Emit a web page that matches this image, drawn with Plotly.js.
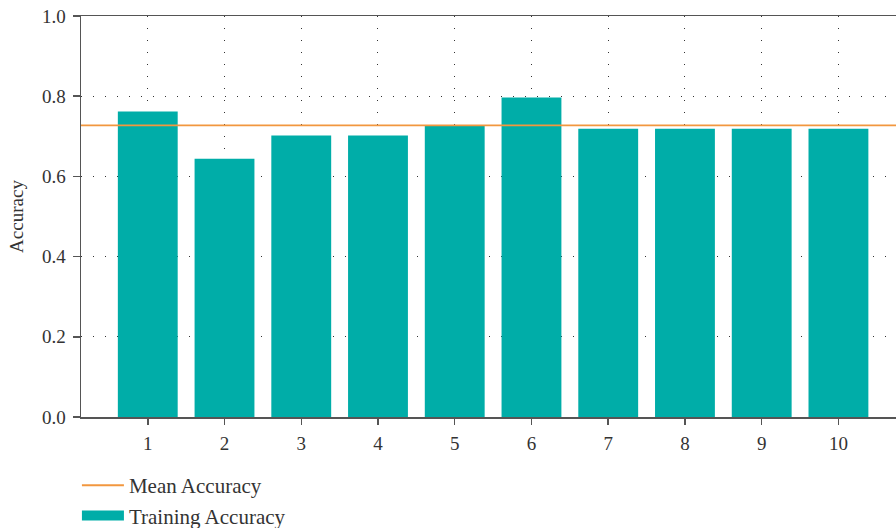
<!DOCTYPE html>
<html>
<head>
<meta charset="utf-8">
<script src="https://cdn.plot.ly/plotly-3.0.1.min.js"></script>
<style>
  html, body { margin: 0; padding: 0; background: #ffffff; }
  #chart { width: 896px; height: 528px; }
</style>
</head>
<body>
<div id="chart"></div>
<script>
// Training accuracy per run, with the mean accuracy reference line
const runs = [1, 2, 3, 4, 5, 6, 7, 8, 9, 10];
const trainingAccuracy = [0.762, 0.644, 0.702, 0.702, 0.727, 0.797, 0.719, 0.719, 0.719, 0.719];
const meanAccuracy = 0.727;
const yTicks = [0.0, 0.2, 0.4, 0.6, 0.8, 1.0];
const yTickLabels = ['0.0', '0.2', '0.4', '0.6', '0.8', '1.0'];

const xRange = [0.13, 10.75];
const serif = 'Liberation Serif, Times New Roman, serif';
const teal = '#00ADA8';
const orange = '#F2973F';

const traces = [
  {
    type: 'scatter',
    mode: 'lines',
    name: 'Mean Accuracy',
    x: xRange,
    y: xRange.map(() => meanAccuracy),
    line: { color: orange, width: 1.8 },
    hoverinfo: 'skip',
    legendrank: 1
  },
  {
    type: 'bar',
    name: 'Training Accuracy',
    x: runs,
    y: trainingAccuracy,
    width: 0.78,
    marker: { color: teal, line: { width: 0 } },
    showlegend: false
  },
  {
    // legend swatch for the bars, drawn as a wide block
    type: 'scatter',
    mode: 'lines',
    name: 'Training Accuracy',
    x: [null],
    y: [null],
    line: { color: teal, width: 15 },
    legendrank: 2
  }
];

const layout = {
  width: 896,
  height: 528,
  margin: { l: 81, r: 0, t: 16, b: 111, autoexpand: false },
  paper_bgcolor: '#ffffff',
  plot_bgcolor: '#ffffff',
  font: { family: serif, color: '#333333', size: 19 },
  showlegend: true,
  legend: {
    x: -0.005,
    xanchor: 'left',
    y: -0.12,
    yanchor: 'top',
    orientation: 'v',
    font: { family: serif, size: 21, color: '#333333' },
    tracegroupgap: 3,
    itemwidth: 42,
    bgcolor: 'rgba(0,0,0,0)'
  },
  xaxis: {
    range: xRange,
    tickmode: 'array',
    tickvals: runs,
    ticktext: runs.map(String),
    ticks: 'outside',
    ticklen: 6,
    tickwidth: 1.5,
    tickcolor: '#555555',
    ticklabelstandoff: 3,
    showline: true,
    linecolor: '#555555',
    linewidth: 1.5,
    mirror: true,
    showgrid: true,
    gridcolor: '#333333',
    gridwidth: 1,
    griddash: '1px,11px',
    zeroline: false,
    tickfont: { family: serif, size: 19, color: '#333333' },
    fixedrange: true
  },
  yaxis: {
    range: [0, 1],
    tickmode: 'array',
    tickvals: yTicks,
    ticktext: yTickLabels,
    ticks: 'outside',
    ticklen: 7,
    tickwidth: 1.5,
    tickcolor: '#555555',
    ticklabelstandoff: 3,
    showline: true,
    linecolor: '#555555',
    linewidth: 1.5,
    mirror: false,
    showgrid: true,
    gridcolor: '#333333',
    gridwidth: 1,
    griddash: '1px,11px',
    zeroline: false,
    tickfont: { family: serif, size: 19, color: '#333333' },
    title: { text: 'Accuracy', font: { family: serif, size: 19, color: '#333333' }, standoff: 13 },
    automargin: false,
    fixedrange: true
  },
  bargap: 0.22
};

Plotly.newPlot('chart', traces, layout, { displayModeBar: false, staticPlot: true });
</script>
</body>
</html>
